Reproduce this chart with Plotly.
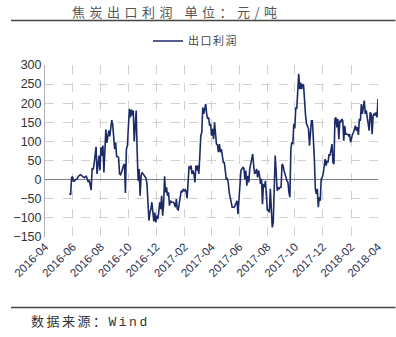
import pandas as pd
import plotly.graph_objects as go

# 焦炭出口利润 (元/吨), sampled roughly every two days
start_date = "2016-05-25"
end_date = "2018-04-01"

profit = [
    -35, -40, 5, 8, -5, -1, 0, 1, 3, 9, 12, 13, 11, 9, 7, 5, 7, 9, 2, -6, -2, -14, -27,
    30, 26, 41, 63, 86, 15, 45, 63, 24, 85, 63, 89, 19, 100, 131, 96, 115, 128, 113, 133,
    156, 144, 106, 80, 98, 61, 60, 58, 15, 13, 19, 30, 37, 41, -35, 80, 89, 137, 185, 163,
    183, 168, 181, 100, 150, 181, 72, -3, 28, -42, 10, 19, 15, 12, 9, 4, -11, -68, -107, -86,
    -77, -59, -94, -109, -86, -112, -94, -103, -86, -59, -77, -42, -94, -64, 9, -33, -20, -42, -33, -68,
    -55, -59, -59, -59, -64, -72, -51, -77, -79, -59, -51, -29, -33, -26, -29, -26, -31, -49, -7, 35,
    28, 37, 15, 24, 15, -7, 37, 24, 37, 15, 63, 115, 124, 189,
    172, 185, 198, 172, 159, 163, 141, 146, 115, 133, 106, 150, 106, 93, 91, 72, 93, 72, 80, 58,
    45, 45, 24, 2, 3, -7, -33, -51, -59, -72, -72, -72, -68, -59, -55, -90, -51, -24, 24, 28,
    32, 30, 2, 24, -16, 10, -7, 28, 41, 63, 67, 37, 15, 19, 28, 6, 24, 10, -11, 2,
    -64, -11, -20, -3, -42, -81, -77, -86, -24, -72, -125, -112, 10, 63, 19, -29, -20, -24, -20, -20,
    41, 37, 24, 10, 6, -3, -7, -33, -46, 80, 98, 93, 146, 134, 189, 185, 220, 277, 237, 254,
    237, 250, 246, 194, 168, 146, 141, 133, 89, 124, 154, 154, 111, 54, -24, -38, -24, -72, -46, -55,
    2, 6, 15, 37, 54, 37, 50, 45, 67, 63, 80, 93, 45, 41, 159, 163, 137, 159, 106, 154,
    150, 159, 154, 102, 141, 119, 119, 119, 115, 119, 98, 111, 119, 124, 137, 141, 128, 137, 117, 159,
    154, 198, 172, 194, 207, 172, 181, 163, 150, 128, 176, 172, 119, 168, 172, 168, 176, 163, 211,
]
dates = pd.date_range(start_date, end_date, periods=len(profit))

y_ticks = [300, 250, 200, 150, 100, 50, 0, -50, -100, -150]
x_range = ["2016-04-01", "2018-04-01"]

title_text = "焦炭出口利润 单位：元/吨"
series_name = "出口利润"
source_text = "数据来源：Wind"

W, H = 396, 337
ML, MR, MT, MB = 35, 18, 65, 100
PW, PH = W - ML - MR, H - MT - MB


def px_x(px):
    return (px - ML) / PW


def px_y(py):
    return (H - MB - py) / PH


def spaced(text, gap):
    return f'<span style="letter-spacing:{gap}px">{text}</span>'


fig = go.Figure()
fig.add_trace(go.Scatter(
    x=dates, y=profit, mode="lines", name=spaced(series_name, 1.5),
    line=dict(color="#1c2a68", width=1.6),
))

grid = dict(showgrid=True, gridcolor="#d0d0d0", griddash="dash", gridwidth=1)
fig.update_layout(
    width=W, height=H,
    margin=dict(l=ML, r=MR, t=MT, b=MB),
    paper_bgcolor="white", plot_bgcolor="white",
    font=dict(family="Liberation Sans, Arial, sans-serif", size=12, color="#333"),
    showlegend=True,
    legend=dict(orientation="h", x=px_x(190), y=px_y(41), xanchor="center", yanchor="middle",
                font=dict(family="Noto Sans CJK SC", size=11, color="#444"),
                bgcolor="rgba(0,0,0,0)"),
    xaxis=dict(type="date", range=x_range, tick0="2016-04-01", dtick="M2",
               tickformat="%Y-%m", tickangle=-45, ticks="",
               tickfont=dict(size=11.5, color="#2a3050"),
               showline=False, zeroline=False, **grid),
    yaxis=dict(range=[-150, 300], tickvals=y_ticks, ticks="",
               tickfont=dict(size=12.5, color="#333"),
               showline=True, linecolor="#b0b0b0", linewidth=1,
               zeroline=True, zerolinecolor="#808080", zerolinewidth=1.2,
               **grid),
)

# header title and rule
fig.add_annotation(text=spaced(title_text, 4.5), xref="paper", yref="paper",
                   x=px_x(61), y=px_y(12), xanchor="left", yanchor="middle",
                   showarrow=False,
                   font=dict(family="Noto Sans CJK SC", size=13, color="#555"))
fig.add_shape(type="line", xref="paper", yref="paper",
              x0=px_x(0), x1=px_x(W), y0=px_y(20.5), y1=px_y(20.5),
              line=dict(color="#444", width=1.5))

# footer rule and source note
fig.add_shape(type="line", xref="paper", yref="paper",
              x0=px_x(0), x1=px_x(W), y0=px_y(307.5), y1=px_y(307.5),
              line=dict(color="#444", width=1.5))
fig.add_annotation(text=spaced(source_text, 2.5), xref="paper", yref="paper",
                   x=px_x(19), y=px_y(322), xanchor="left", yanchor="middle",
                   showarrow=False,
                   font=dict(family="Liberation Mono, Noto Sans CJK SC", size=13, color="#333"))

fig.write_html("out.html")
